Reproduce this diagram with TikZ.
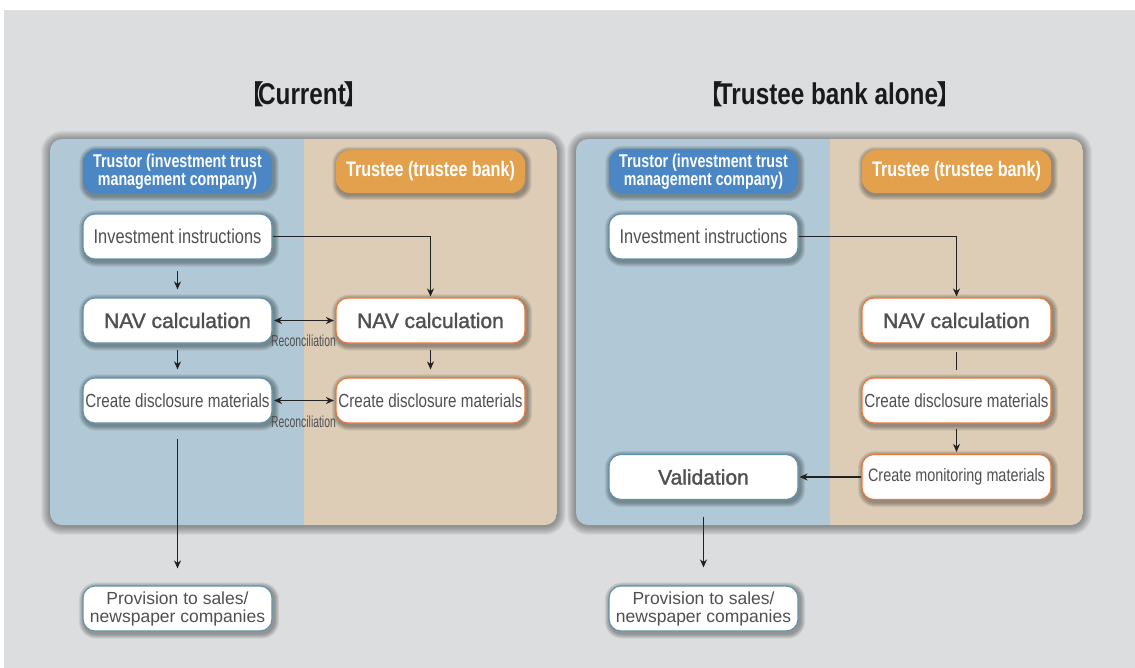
\documentclass[tikz,border=0pt]{standalone}
\usepackage{fontspec}
\setmainfont{Liberation Sans}
\newfontfamily\cjkfont[RawFeature=+halt]{Noto Sans CJK JP}
\newfontfamily\condA[FakeStretch=0.82]{Liberation Sans}
\newfontfamily\condB[FakeStretch=0.80]{Liberation Sans}
\newfontfamily\condC[FakeStretch=0.65]{Liberation Sans}
\newfontfamily\hdrfont[FakeStretch=0.77]{Liberation Sans}
\newfontfamily\headfont[FakeStretch=0.81]{Liberation Sans}
\newfontfamily\medfont[FakeBold=1.5]{Liberation Sans}
\usetikzlibrary{arrows.meta}
\pgfdeclarelayer{back}
\pgfdeclarelayer{shadowlayer}
\pgfsetlayers{back,shadowlayer,main}
\definecolor{bgc}{HTML}{DCDDDF}
\definecolor{bluep}{HTML}{B1C9D6}
\definecolor{beigep}{HTML}{DDCDB7}
\definecolor{pillb}{HTML}{4B86C5}
\definecolor{pillo}{HTML}{E4A14D}
\definecolor{bstroke}{HTML}{5D93AB}
\definecolor{ostroke}{HTML}{E9783C}
\definecolor{txt}{HTML}{505052}
\definecolor{linec}{HTML}{222222}
\definecolor{headc}{HTML}{1A1A1A}
\tikzset{
  box/.style={draw=bstroke, line width=1.1pt, fill=white, rounded corners=12pt,
    minimum width=189pt, minimum height=45pt, inner sep=0pt, align=center, text=txt},
  obox/.style={box, draw=ostroke},
  pill/.style={rounded corners=14pt, minimum width=189pt, minimum height=45pt,
    inner sep=0pt, text=white, align=center},
  arr/.style={-{Stealth[length=8pt,width=7pt,inset=2.5pt]}, line width=1.2pt, draw=linec},
  darr/.style={{Stealth[length=8pt,width=7pt,inset=2.5pt]}-{Stealth[length=8pt,width=7pt,inset=2.5pt]}, line width=1.2pt, draw=linec},
  plain/.style={line width=1.2pt, draw=linec},
  recon/.style={text=txt, inner sep=0pt, font=\condC\fontsize{16}{16}\selectfont},
  heading/.style={text=headc, inner sep=0pt},
  invf/.style={font=\condA\fontsize{20}{22}\selectfont},
  navf/.style={font=\medfont\fontsize{21}{23}\selectfont},
  discf/.style={font=\condB\fontsize{19}{21}\selectfont},
  monf/.style={font=\condB\fontsize{18}{20}\selectfont},
  provf/.style={font=\fontsize{17.5}{18}\selectfont},
  trustorf/.style={font=\hdrfont\bfseries\fontsize{18.5}{17}\selectfont},
  trusteef/.style={font=\hdrfont\bfseries\fontsize{21}{22}\selectfont},
  shadowlayerfill/.style={fill=black, draw=none},
}
% soft shadow: #1 NW point, #2 SE point, #3 layers, #4 opacity, #5 radius, #6 xshift, #7 yshift
\newcommand{\softshadow}[7]{%
  \foreach \k in {1,...,#3}{%
    \pgfmathsetmacro\rr{#5+\k}%
    \fill[shadowlayerfill, opacity=#4, rounded corners=\rr pt]
      ([shift={(#6-\k,#7-\k)}]#1) rectangle ([shift={(#6+\k,#7+\k)}]#2);
  }}
\newcommand{\nodeshadow}[1]{\softshadow{#1.north west}{#1.south east}{5}{0.075}{12}{1.5}{2}}
\newcommand{\lbrk}{{\cjkfont\fontsize{27}{27}\selectfont 【}\kern-6pt}
\newcommand{\rbrk}{\kern-2pt{\cjkfont\fontsize{27}{27}\selectfont 】}}
\begin{document}
\begin{tikzpicture}[x=1pt,y=-1pt]
\useasboundingbox (0,0) rectangle (1135,668);

% headings
\node[heading] (h1) at (304,94) {\lbrk{\headfont\bfseries\fontsize{30}{30}\selectfont Current}\rbrk};
\node[heading] (h2) at (830,94) {\lbrk{\headfont\bfseries\fontsize{30}{30}\selectfont Trustee bank alone}\rbrk};

% panels
\coordinate (pLnw) at (50,139);  \coordinate (pLse) at (557,525);
\coordinate (pRnw) at (576,139); \coordinate (pRse) at (1083,525);
\begin{pgfonlayer}{back}
\fill[white] (0,0) rectangle (1135,668);
\fill[bgc] (4,10) rectangle (1135,668);
\softshadow{pLnw}{pLse}{9}{0.045}{12}{0}{1}
\softshadow{pRnw}{pRse}{9}{0.045}{12}{0}{1}
\foreach \dx in {0,526}{
  \begin{scope}
    \clip[rounded corners=12pt] (50+\dx,139) rectangle (557+\dx,525);
    \fill[bluep] (50+\dx,139) rectangle (304+\dx,525);
    \fill[beigep] (304+\dx,139) rectangle (557+\dx,525);
  \end{scope}
}
\end{pgfonlayer}

% ---------- left: current ----------
\node[pill, fill=pillb, trustorf] (tL1) at (177.5,171.5) {Trustor (investment trust\\management company)};
\node[pill, fill=pillo, trusteef, minimum height=43pt] (tL2) at (430.5,171.5) {Trustee (trustee bank)};
\node[box, invf] (invL) at (177.5,236.5) {Investment instructions};
\node[box, navf] (navL) at (177.5,320.5) {NAV calculation};
\node[obox, navf] (navLR) at (430.5,320.5) {NAV calculation};
\node[box, discf] (discL) at (177.5,400.5) {Create disclosure materials};
\node[obox, discf] (discLR) at (430.5,400.5) {Create disclosure materials};
\node[box, provf] (provL) at (177.5,608.5) {Provision to sales/\\newspaper companies};
\node[recon] (rc1) at (303.5,341) {Reconciliation};
\node[recon] (rc2) at (303.5,421.5) {Reconciliation};

\draw[arr, shorten <=11.5pt, shorten >=8pt] (invL) -- (navL);
\draw[arr, shorten <=6pt, shorten >=8pt] (navL) -- (discL);
\draw[arr, shorten <=6pt, shorten >=8pt] (navLR) -- (discLR);
\draw[arr, shorten >=1pt] (invL.east) -| (navLR.north);
\draw[darr, shorten <=1.5pt, shorten >=1.5pt] (navL) -- (navLR);
\draw[darr, shorten <=1.5pt, shorten >=1.5pt] (discL) -- (discLR);
\draw[arr, shorten <=15pt, shorten >=17pt] (discL) -- (provL);

% ---------- right: trustee bank alone ----------
\node[pill, fill=pillb, trustorf] (tR1) at (703.5,171.5) {Trustor (investment trust\\management company)};
\node[pill, fill=pillo, trusteef, minimum height=43pt] (tR2) at (956.5,171.5) {Trustee (trustee bank)};
\node[box, invf] (invR) at (703.5,236.5) {Investment instructions};
\node[obox, navf] (navR) at (956.5,320.5) {NAV calculation};
\node[obox, discf] (discR) at (956.5,400.5) {Create disclosure materials};
\node[obox, monf] (monR) at (956.5,477) {Create monitoring materials};
\node[box, navf] (valR) at (703.5,477) {Validation};
\node[box, provf] (provR) at (703.5,608.5) {Provision to sales/\\newspaper companies};

\draw[arr, shorten >=1pt] (invR.east) -| (navR.north);
\draw[plain, shorten <=8.5pt, shorten >=7pt] (navR) -- (discR);
\draw[arr, shorten <=5pt, shorten >=2pt] (discR) -- (monR);
\draw[arr, shorten >=1pt] (monR) -- (valR);
\draw[arr, shorten <=16.5pt, shorten >=18pt] (valR) -- (provR);

% soft shadows behind boxes and pills
\begin{pgfonlayer}{shadowlayer}
\foreach \n in {tL1,tL2,invL,navL,navLR,discL,discLR,provL,tR1,tR2,invR,navR,discR,monR,valR,provR}{
  \nodeshadow{\n}
}
\end{pgfonlayer}
\end{tikzpicture}
\end{document}
